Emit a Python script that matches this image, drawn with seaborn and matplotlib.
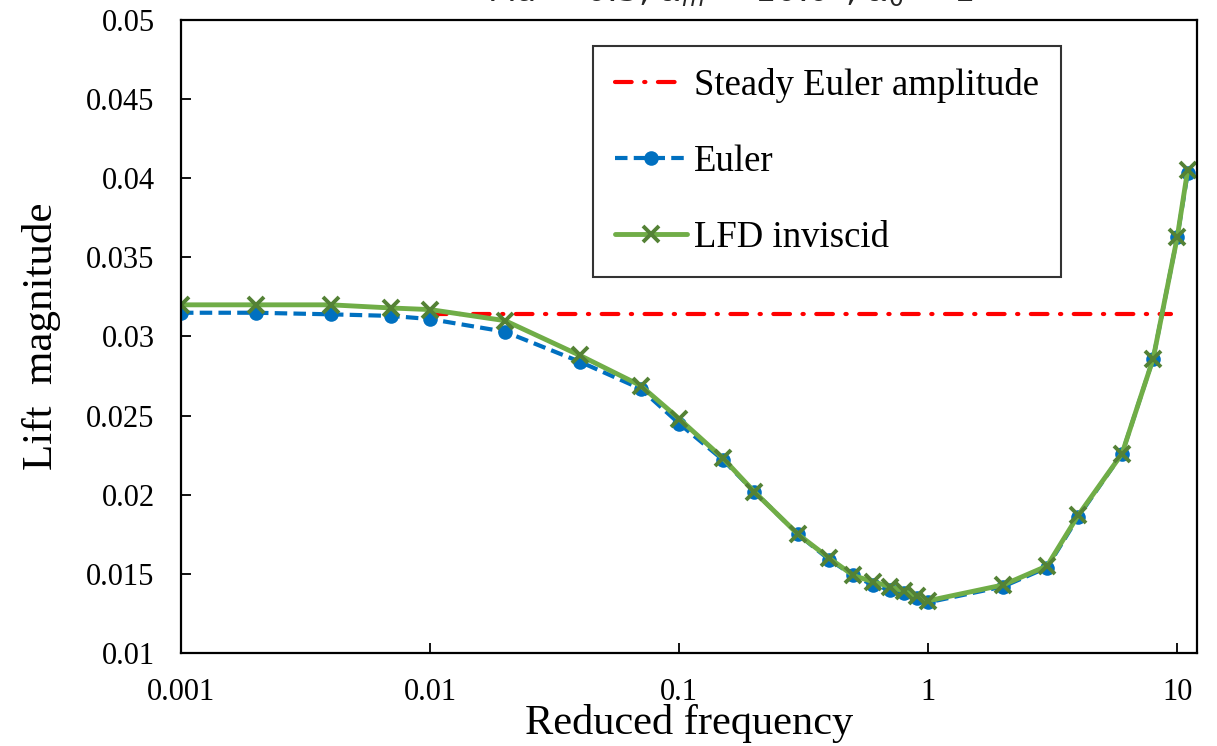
# coding: utf-8

# Lift magnitude vs reduced frequency

import numpy as np
import pandas as pd
import seaborn as sns
import matplotlib.pyplot as plt
from matplotlib.ticker import NullLocator


# Data
freq = [0.001, 0.002, 0.004, 0.007, 0.01, 0.02, 0.04, 0.07, 0.1, 0.15, 0.2,
        0.3, 0.4, 0.5, 0.6, 0.7, 0.8, 0.9, 1, 2, 3, 4, 6, 8, 10, 11]
euler = [0.0315, 0.0315, 0.0314, 0.0313, 0.0311, 0.0303, 0.0284, 0.0267,
         0.0245, 0.0222, 0.0202, 0.0175, 0.0159, 0.0149, 0.0143, 0.0140,
         0.0138, 0.0135, 0.0132, 0.0142, 0.0154, 0.0186, 0.0226, 0.0286,
         0.0363, 0.0403]
lfd = [0.0320, 0.0320, 0.0320, 0.0318, 0.0317, 0.0310, 0.0288, 0.0269,
       0.0248, 0.0223, 0.0202, 0.0175, 0.0160, 0.0149, 0.0145, 0.0142,
       0.0139, 0.0136, 0.0133, 0.0143, 0.0155, 0.0187, 0.0226, 0.0286,
       0.0363, 0.0405]
steadyFreq = [0.01, 9.4]
steadyAmp = [0.0314, 0.0314]

xTicks = [0.001, 0.01, 0.1, 1, 10]
xTickLabels = ["0.001", "0.01", "0.1", "1", "10"]
yTicks = [0.01, 0.015, 0.02, 0.025, 0.03, 0.035, 0.04, 0.045, 0.05]
yTickLabels = ["0.01", "0.015", "0.02", "0.025", "0.03", "0.035", "0.04", "0.045", "0.05"]

df = pd.DataFrame({"freq": freq, "Euler": euler, "LFD": lfd})
steadyDF = pd.DataFrame({"freq": steadyFreq, "amp": steadyAmp})

# Style
sns.set_theme(style="white")
plt.rcParams['font.family'] = ['Liberation Serif', 'DejaVu Serif']
plt.rcParams['mathtext.fontset'] = 'dejavusans'

fig = plt.figure(figsize=(12.17, 7.46), dpi=100)
ax = fig.add_axes([0.1487, 0.1247, 0.8349, 0.8485])

sns.lineplot(data=steadyDF, x="freq", y="amp", ax=ax, color="#FF0000",
             linewidth=3, label="Steady Euler amplitude", dash_capstyle='round')
ax.lines[-1].set_linestyle((0, (4, 3, 0.3, 3)))
sns.lineplot(data=df, x="freq", y="Euler", ax=ax, color="#0070C0",
             linewidth=3, marker="o", markersize=10.5, markeredgewidth=0,
             label="Euler")
ax.lines[-1].set_linestyle((0, (3, 1.5)))
sns.lineplot(data=df, x="freq", y="LFD", ax=ax, color="#70AD47",
             linewidth=3.5, marker="x", markersize=12, markeredgewidth=2.8,
             markeredgecolor="#548235", label="LFD inviscid")

ax.set_xscale("log")
ax.set_xlim(0.001, 12)
ax.set_ylim(0.01, 0.05)
ax.set_xticks(xTicks)
ax.set_xticklabels(xTickLabels)
ax.xaxis.set_minor_locator(NullLocator())
ax.set_yticks(yTicks)
ax.set_yticklabels(yTickLabels)
ax.tick_params(axis='both', direction='in', length=7, width=1.3,
               labelsize=22, colors='black', bottom=True, left=True)
ax.tick_params(axis='x', pad=18)
ax.tick_params(axis='y', pad=19)

for s in ax.spines.values():
    s.set_visible(True)
    s.set_color('black')
    s.set_linewidth(1.6)

ax.set_xlabel("Reduced frequency", fontsize=30.5, color='black', labelpad=-2)
ax.set_ylabel("Lift  magnitude", fontsize=31, color='black', labelpad=18)

leg = ax.legend(loc='upper left', bbox_to_anchor=(0.4055, 0.959),
                borderaxespad=0, fontsize=26.5, frameon=True, fancybox=False,
                handlelength=1.95, handletextpad=0.2, labelspacing=1.13,
                borderpad=0.6, numpoints=1)
leg.get_frame().set_edgecolor('black')
leg.get_frame().set_linewidth(1.5)
for t in leg.get_texts():
    t.set_color('black')

# Title sits mostly above the figure edge, as in the source
fig.text(0.400, 0.9987, r"Ma = 0.5, $\alpha_m$ = 10.0°, $\alpha_0$ = 1°",
         ha='left', va='baseline', fontsize=24, family='DejaVu Sans')

fig.savefig("out.png", dpi=100)
